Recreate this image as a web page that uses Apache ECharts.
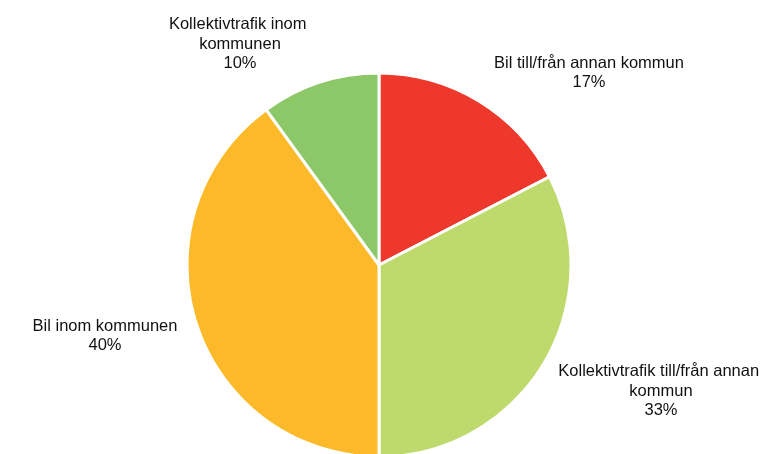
<!DOCTYPE html>
<html>
<head>
<meta charset="utf-8">
<script src="https://cdn.jsdelivr.net/npm/echarts@6/dist/echarts.min.js"></script>
<style>html,body{margin:0;padding:0;background:#fff}#c{width:766px;height:454px}</style>
</head>
<body>
<div id="c"></div>
<script>
const categories = ['Bil till/från annan kommun', 'Kollektivtrafik till/från annan kommun', 'Bil inom kommunen', 'Kollektivtrafik inom kommunen'];
const values = [17.4, 32.6, 40, 10];
const colors = ['#ED382B', '#BEDA6D', '#FCBA2A', '#8DC868'];
const wrapWidths = [240, 214, 200, 160];
const labelCenters = [[589, 73], [661, 391], [105, 336], [240, 44]];

const chart = echarts.init(document.getElementById('c'));
chart.setOption({
  animation: false,
  backgroundColor: '#fff',
  series: [{
    type: 'pie',
    center: [379, 265],
    radius: 192,
    startAngle: 90,
    clockwise: true,
    avoidLabelOverlap: false,
    itemStyle: { borderColor: '#fff', borderWidth: 3 },
    label: {
      show: true,
      position: 'outside',
      formatter: p => p.name + '\n' + Math.round(p.percent) + '%',
      fontFamily: 'Liberation Sans, Arial, sans-serif',
      fontSize: 16.5,
      lineHeight: 19.5,
      color: '#111',
      overflow: 'break',
      align: 'center'
    },
    labelLine: { show: false },
    labelLayout: function (p) {
      const c = labelCenters[p.dataIndex];
      return { x: c[0], y: c[1], align: 'center', verticalAlign: 'middle' };
    },
    emphasis: { disabled: true },
    data: categories.map((n, i) => ({
      name: n, value: values[i],
      itemStyle: { color: colors[i] },
      label: { width: wrapWidths[i] }
    }))
  }]
});
</script>
</body>
</html>
